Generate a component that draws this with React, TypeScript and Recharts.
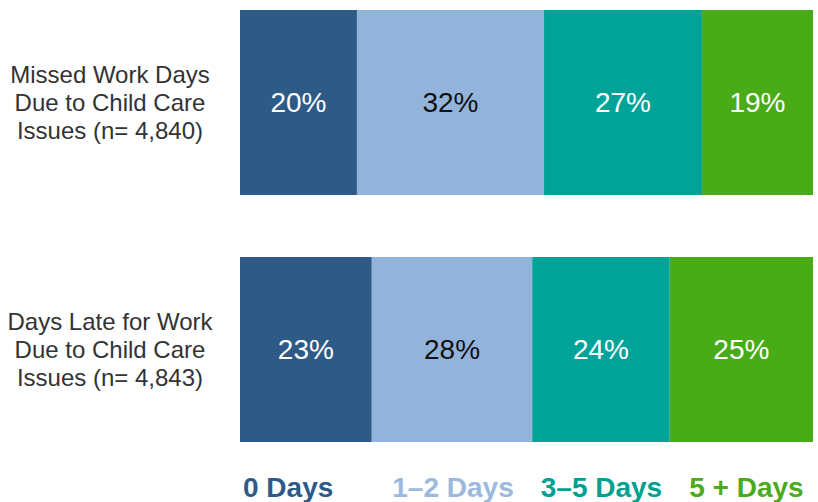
import React from 'react';
import { BarChart, Bar, XAxis, YAxis, LabelList, Legend } from 'recharts';

const categories = [
  ['Missed Work Days', 'Due to Child Care', 'Issues (n= 4,840)'],
  ['Days Late for Work', 'Due to Child Care', 'Issues (n= 4,843)'],
];
const seriesNames = ['0 Days', '1–2 Days', '3–5 Days', '5 + Days'];
const zeroDays = [20, 23];
const oneTwoDays = [32, 28];
const threeFiveDays = [27, 24];
const fivePlusDays = [19, 25];

const colors = ['#2E5A87', '#93B4DA', '#00A397', '#4AAB19'];
const legendColors = ['#2E5A87', '#9CB9DD', '#00A090', '#4CAA1C'];
const labelColors = ['#FFFFFF', '#111111', '#FFFFFF', '#FFFFFF'];
const keys = ['d0', 'd12', 'd35', 'd5p'];

const data = categories.map((c, i) => ({
  name: c.join('|'),
  d0: zeroDays[i],
  d12: oneTwoDays[i],
  d35: threeFiveDays[i],
  d5p: fivePlusDays[i],
}));

const font = '"Liberation Sans", Arial, sans-serif';

const CategoryTick = (props: any) => {
  const { x, y, payload } = props;
  const lines = String(payload.value).split('|');
  const cx = x - 122;
  return (
    <text x={cx} y={y} textAnchor="middle" fill="#333333" fontSize={24} fontFamily={font}>
      {lines.map((l, i) => (
        <tspan key={i} x={cx} dy={i === 0 ? -28 + 8 : 28}>
          {l}
        </tspan>
      ))}
    </text>
  );
};

const LegendContent = () => (
  <div style={{ display: 'flex', paddingLeft: 243, fontFamily: font, fontWeight: 'bold', fontSize: 28, lineHeight: '32px' }}>
    {seriesNames.map((n, i) => (
      <span key={n} style={{ color: legendColors[i], marginRight: i === 0 ? 59 : 27, whiteSpace: 'nowrap' }}>
        {n}
      </span>
    ))}
  </div>
);

export default function App() {
  return (
    <div style={{ position: 'absolute', left: 0, top: 0, width: 818, height: 502, background: '#fff' }}>
      <BarChart
        width={818}
        height={502}
        data={data}
        layout="vertical"
        stackOffset="expand"
        barSize={185}
        margin={{ top: -21, right: 5, bottom: -3, left: 0 }}
      >
        <XAxis type="number" hide domain={[0, 1]} />
        <YAxis
          type="category"
          dataKey="name"
          width={240}
          axisLine={false}
          tickLine={false}
          tick={<CategoryTick />}
        />
        <Legend
          verticalAlign="bottom"
          content={<LegendContent />}
          wrapperStyle={{ top: 472, bottom: 'auto', left: 0, width: 818 }}
        />
        {keys.map((k, i) => (
          <Bar key={k} dataKey={k} name={seriesNames[i]} stackId="a" fill={colors[i]} isAnimationActive={false}>
            <LabelList
              dataKey={k}
              position="center"
              formatter={(v: any) => `${v}%`}
              fill={labelColors[i]}
              fontSize={28}
              fontFamily={font}
            />
          </Bar>
        ))}
      </BarChart>
    </div>
  );
}
